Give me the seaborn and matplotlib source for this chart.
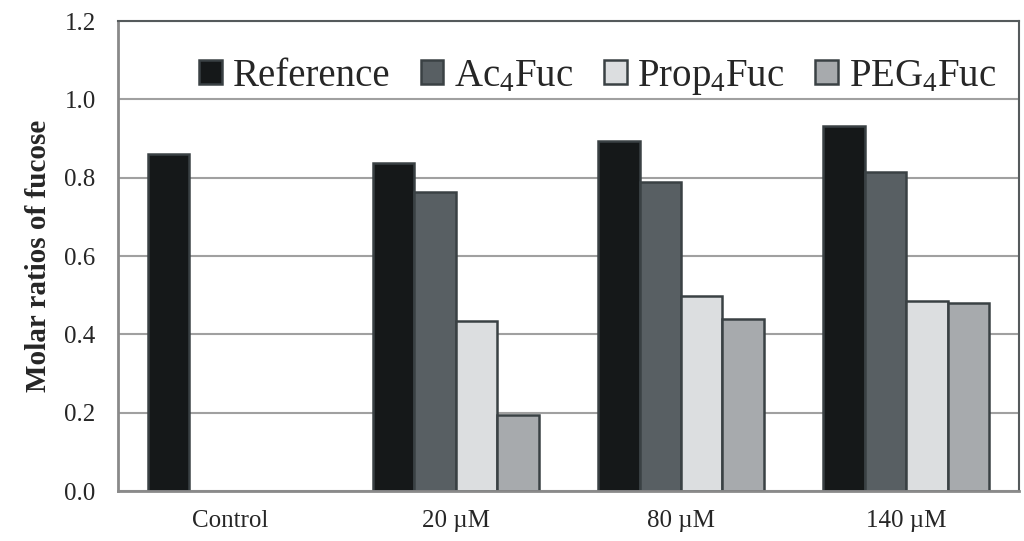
import matplotlib
matplotlib.use('Agg')
import numpy as np
import pandas as pd
import matplotlib.pyplot as plt
import seaborn as sns
from matplotlib.ticker import FixedLocator, NullFormatter

categories = ['Control', '20 µM', '80 µM', '140 µM']
series = ['Reference', 'Ac$_4$Fuc', 'Prop$_4$Fuc', 'PEG$_4$Fuc']
reference = [0.861, 0.838, 0.894, 0.932]
ac4fuc = [np.nan, 0.764, 0.790, 0.815]
prop4fuc = [np.nan, 0.433, 0.499, 0.484]
peg4fuc = [np.nan, 0.194, 0.440, 0.479]
colors = ['#151819', '#585f63', '#dcdee0', '#a7aaad']

rows = []
for name, vals in zip(series, [reference, ac4fuc, prop4fuc, peg4fuc]):
    for cat, v in zip(categories, vals):
        rows.append({'group': cat, 'series': name, 'value': v})
df = pd.DataFrame(rows).dropna()

sns.set_style('white')
plt.rcParams['font.family'] = ['Liberation Serif', 'DejaVu Serif']
plt.rcParams['mathtext.fontset'] = 'custom'
plt.rcParams['mathtext.rm'] = 'Liberation Serif'
plt.rcParams['mathtext.it'] = 'Liberation Serif'

fig = plt.figure(figsize=(10.24, 5.41), dpi=100)
ax = fig.add_axes([0.1152, 0.0924, 0.8798, 0.8686])

sns.barplot(data=df, x='group', y='value', hue='series', order=categories,
            hue_order=series, palette=colors, width=0.736, dodge=True,
            edgecolor='#3a4144', linewidth=1.8, saturation=1, errorbar=None, ax=ax)

ax.set_ylim(0, 1.2)
ax.set_xlim(-0.5, 3.5)
ax.set_yticks(np.arange(0, 1.21, 0.2))
ax.set_yticklabels([f'{v:.1f}' for v in np.arange(0, 1.21, 0.2)], fontsize=18)
ax.yaxis.grid(True, color='#a0a0a0', linewidth=1.5)
ax.set_axisbelow(True)

ax.tick_params(axis='x', which='major', length=0, labelsize=18, pad=14)
ax.xaxis.set_minor_locator(FixedLocator([0.5, 1.5, 2.5]))
ax.xaxis.set_minor_formatter(NullFormatter())
ax.tick_params(axis='x', which='minor', length=7, width=1.5, color='#888888', direction='out')
ax.tick_params(axis='y', length=8, width=1.5, color='#888888', direction='out', pad=8)

for side in ['left', 'bottom']:
    ax.spines[side].set_color('#8a8a8a')
    ax.spines[side].set_linewidth(2)
for side in ['top', 'right']:
    ax.spines[side].set_color('#555a5c')
    ax.spines[side].set_linewidth(1.5)

ax.set_xlabel('')
ax.set_ylabel('Molar ratios of fucose', fontsize=21, fontweight='bold', labelpad=9)

handles, labels = ax.get_legend_handles_labels()
ax.legend(handles, labels, loc='upper right', bbox_to_anchor=(0.992, 0.955), ncol=4,
          frameon=False, fontsize=28, handlelength=0.58, handleheight=0.58,
          handletextpad=0.28, columnspacing=0.78, borderaxespad=0)

fig.savefig('out.png', dpi=100)
